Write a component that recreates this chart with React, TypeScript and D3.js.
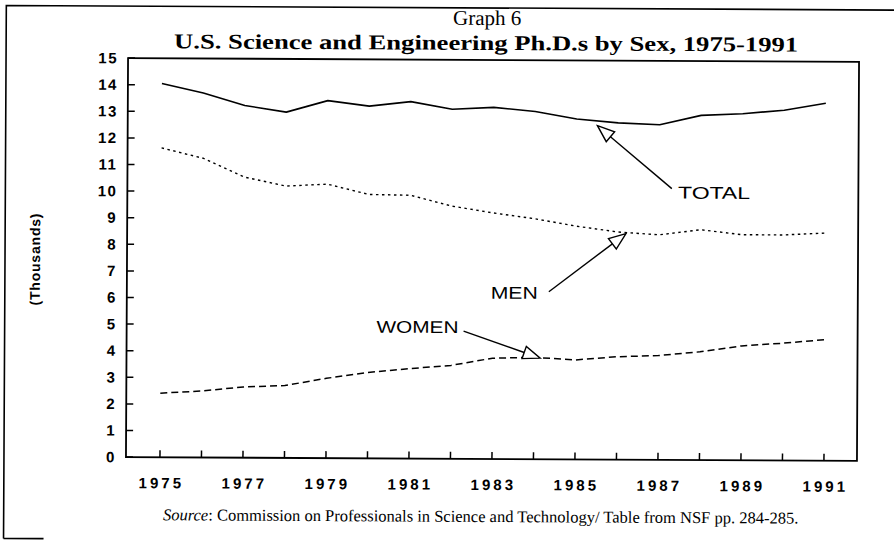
import React from "react";
import * as d3 from "d3";

const years = [1975, 1976, 1977, 1978, 1979, 1980, 1981, 1982, 1983, 1984, 1985, 1986, 1987, 1988, 1989, 1990, 1991];
const totalValues = [14.05, 13.7, 13.24, 13.0, 13.44, 13.24, 13.42, 13.14, 13.22, 13.07, 12.8, 12.66, 12.6, 12.96, 13.03, 13.17, 13.44];
const menValues = [11.63, 11.25, 10.55, 10.22, 10.3, 9.92, 9.9, 9.5, 9.25, 9.04, 8.77, 8.56, 8.46, 8.66, 8.48, 8.48, 8.56];
const womenValues = [2.41, 2.5, 2.66, 2.72, 3.0, 3.23, 3.38, 3.51, 3.79, 3.83, 3.74, 3.87, 3.92, 4.07, 4.3, 4.41, 4.55];
const yTicks = [0, 1, 2, 3, 4, 5, 6, 7, 8, 9, 10, 11, 12, 13, 14, 15];
const xLabelYears = [1975, 1977, 1979, 1981, 1983, 1985, 1987, 1989, 1991];

const seriesNames = ["TOTAL", "MEN", "WOMEN"];

// annotation anchors in data space: label position, arrow start, arrow tip
const labelAnchors = [
  { name: "TOTAL", lx: 1987.45, ly: 10.05, sx: 1987.3, sy: 10.2, tx: 1985.5, ty: 12.55 },
  { name: "MEN", lx: 1982.95, ly: 6.25, sx: 1984.35, sy: 6.3, tx: 1986.2, ty: 8.5 },
  { name: "WOMEN", lx: 1980.2, ly: 4.95, sx: 1982.3, sy: 4.8, tx: 1984.15, ty: 3.8 },
];
const labelWidths = [72, 47, 82];

const W = 894;
const H = 546;
const plot = { left: 127, right: 858, top: 60, bottom: 459 };

export default function App() {
  const x = d3.scaleLinear().domain([1975, 1991]).range([161, 825]);
  const y = d3.scaleLinear().domain([0, 15]).range([plot.bottom, plot.top]);
  const line = d3
    .line<number>()
    .x((_, i) => x(years[i]))
    .y((d) => y(d));

  const sans = "'Liberation Sans', Arial, sans-serif";
  const serif = "'Liberation Serif', 'Times New Roman', serif";

  const arrow = (sx: number, sy: number, tx: number, ty: number, key: string) => {
    const dx = tx - sx;
    const dy = ty - sy;
    const len = Math.sqrt(dx * dx + dy * dy);
    const ux = dx / len;
    const uy = dy / len;
    const hl = 17;
    const hw = 6.5;
    const bx = tx - ux * hl;
    const by = ty - uy * hl;
    const p1 = [bx - uy * hw, by + ux * hw];
    const p2 = [bx + uy * hw, by - ux * hw];
    return (
      <g key={key}>
        <line x1={sx} y1={sy} x2={bx} y2={by} stroke="#000" strokeWidth={1.4} />
        <polygon
          points={`${tx},${ty} ${p1[0]},${p1[1]} ${p2[0]},${p2[1]}`}
          fill="#fff"
          stroke="#000"
          strokeWidth={1.4}
        />
      </g>
    );
  };

  return (
    <svg width={W} height={H} style={{ position: "absolute", left: 0, top: 0, background: "#fff" }}>
      <rect x={0} y={0} width={W} height={H} fill="#fff" />
      <g transform="rotate(0.3, 494, 260)">
        {/* outer frame */}
        <path d={`M5,541 L5,8 L900,8`} fill="none" stroke="#000" strokeWidth={1.6} />
        <line x1={5} y1={541} x2={45} y2={541} stroke="#000" strokeWidth={1.6} />

        {/* titles */}
        <text x={486} y={25} textAnchor="middle" fontFamily={serif} fontSize={21}>
          Graph 6
        </text>
        <text
          x={485}
          y={50}
          textAnchor="middle"
          fontFamily={serif}
          fontWeight="bold"
          fontSize={21}
          textLength={624}
          lengthAdjust="spacingAndGlyphs"
        >
          U.S. Science and Engineering Ph.D.s by Sex, 1975-1991
        </text>

        {/* plot frame */}
        <rect
          x={plot.left}
          y={plot.top}
          width={plot.right - plot.left}
          height={plot.bottom - plot.top}
          fill="none"
          stroke="#000"
          strokeWidth={1.8}
        />

        {/* y ticks */}
        {yTicks.map((t) => (
          <g key={`yt${t}`}>
            <line x1={plot.left} x2={plot.left + 7} y1={y(t)} y2={y(t)} stroke="#000" strokeWidth={1.5} />
            <text
              x={plot.left - 10}
              y={y(t)}
              dy="0.35em"
              textAnchor="end"
              fontFamily={sans}
              fontWeight="bold"
              fontSize={15}
              letterSpacing={1.5}
            >
              {t}
            </text>
          </g>
        ))}

        {/* x ticks */}
        {years.map((yr) => (
          <line key={`xt${yr}`} x1={x(yr)} x2={x(yr)} y1={plot.bottom} y2={plot.bottom - 7} stroke="#000" strokeWidth={1.5} />
        ))}
        {xLabelYears.map((yr) => (
          <text
            key={`xl${yr}`}
            x={x(yr) + 1.5}
            y={490}
            textAnchor="middle"
            fontFamily={sans}
            fontWeight="bold"
            fontSize={15}
            letterSpacing={3}
          >
            {yr}
          </text>
        ))}

        {/* y axis title */}
        <text
          transform={`translate(40, ${(plot.top + plot.bottom) / 2 + 2}) rotate(-90)`}
          textAnchor="middle"
          fontFamily={sans}
          fontWeight="bold"
          fontSize={14}
          letterSpacing={0.8}
        >
          (Thousands)
        </text>

        {/* series */}
        <path d={line(totalValues) || ""} fill="none" stroke="#000" strokeWidth={1.6} strokeLinejoin="round" />
        <path d={line(menValues) || ""} fill="none" stroke="#000" strokeWidth={1.4} strokeDasharray="2.5,3.5" />
        <path d={line(womenValues) || ""} fill="none" stroke="#000" strokeWidth={1.5} strokeDasharray="7,4" />

        {/* annotations */}
        {labelAnchors.map((a, i) => (
          <g key={a.name}>
            {arrow(x(a.sx), y(a.sy), x(a.tx), y(a.ty), a.name)}
            <text
              x={x(a.lx)}
              y={y(a.ly)}
              dy="0.35em"
              fontFamily={sans}
              fontSize={17}
              textLength={labelWidths[i]}
              lengthAdjust="spacingAndGlyphs"
            >
              {seriesNames[i]}
            </text>
          </g>
        ))}

        {/* source */}
        <text x={482} y={522} textAnchor="middle" fontFamily={serif} fontSize={16.5}>
          <tspan fontStyle="italic">Source</tspan>
          <tspan>: Commission on Professionals in Science and Technology/ Table from NSF pp. 284-285.</tspan>
        </text>
      </g>
    </svg>
  );
}
